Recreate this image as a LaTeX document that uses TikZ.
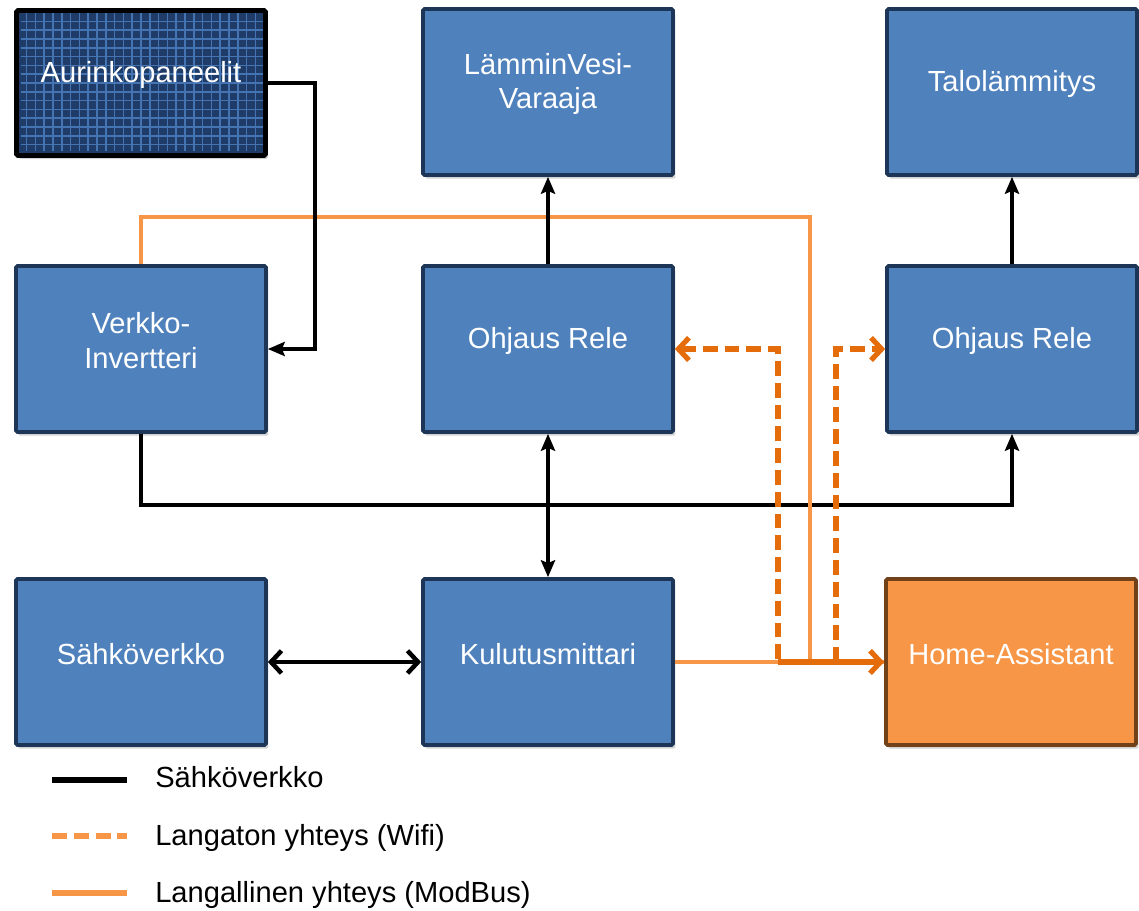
\documentclass[tikz,border=0pt]{standalone}
\usepackage{fontspec}
\setmainfont{Liberation Sans}
\usepackage{tikz}
\usetikzlibrary{arrows.meta}
\usetikzlibrary{shadows}

\definecolor{boxblue}{HTML}{4F81BD}
\definecolor{boxedge}{HTML}{1D3557}
\definecolor{panelblue}{HTML}{1F3B68}
\definecolor{panelgrid}{HTML}{4574B2}
\definecolor{haorange}{HTML}{F79646}
\definecolor{haedge}{HTML}{71411A}
\definecolor{wifiorange}{HTML}{E46C0A}

\tikzstyle{box} = [rectangle, rounded corners=1pt, minimum width=6.25cm, minimum height=4.15cm, draw=boxedge, line width=2.6pt, fill=boxblue, drop shadow={shadow xshift=0.06cm, shadow yshift=-0.09cm, opacity=0.35}]
\tikzstyle{panel} = [box, minimum width=6.22cm, minimum height=3.62cm, draw=black, line width=3.4pt, fill=panelblue, path picture={\draw[panelgrid, line width=1.2pt] ([shift={(0.1cm,0.1cm)}]path picture bounding box.south west) grid[step=0.22cm] (path picture bounding box.north east);}]
\tikzstyle{habox} = [box, draw=haedge, fill=haorange]
\tikzstyle{txt} = [text=white, align=center, font=\fontsize{20.7pt}{24.8pt}\selectfont]
\tikzstyle{legtxt} = [anchor=west, inner sep=0pt, text height=0.75em, text depth=0.2em, font=\fontsize{20.7pt}{24.8pt}\selectfont]
\tikzstyle{wire} = [line width=3.2pt, black]
\tikzstyle{modbus} = [line width=2.4pt, haorange]
\tikzstyle{wifi} = [line width=3.7pt, wifiorange, dash pattern=on 10.5pt off 5pt]

\begin{document}
\begin{tikzpicture}[x=0.025cm, y=-0.025cm, >={Stealth[length=12pt, width=10pt, inset=2pt]}, chev/.tip={Straight Barb[length=7.5pt, width=16pt]}]

  \useasboundingbox (0,0) rectangle (1139,911);

  % Row 1
  \node[panel] (aurinko) at (141,83) {};
  \node[txt] (aurinkot) at ([yshift=0.2cm]aurinko.center) {Aurinkopaneelit};
  \node[box] (lvesi) at (548,92) {};
  \node[txt] (lvesit) at ([yshift=0.2cm]lvesi.center) {LämminVesi-\\Varaaja};
  \node[box] (talo) at (1012,92) {};
  \node[txt] (talot) at ([yshift=0.2cm]talo.center) {Talolämmitys};

  % Row 2
  \node[box] (inv) at (141,349) {};
  \node[txt] (invt) at ([yshift=0.2cm]inv.center) {Verkko-\\Invertteri};
  \node[box] (rele1) at (548,349) {};
  \node[txt] (rele1t) at ([yshift=0.2cm]rele1.center) {Ohjaus Rele};
  \node[box] (rele2) at (1012,349) {};
  \node[txt] (rele2t) at ([yshift=0.2cm]rele2.center) {Ohjaus Rele};

  % Row 3
  \node[box] (sahko) at (141,662) {};
  \node[txt] (sahkot) at ([yshift=0.2cm]sahko.center) {Sähköverkko};
  \node[box] (kulutus) at (548,662) {};
  \node[txt] (kulutust) at ([yshift=0.2cm]kulutus.center) {Kulutusmittari};
  \node[habox] (home) at (1011,662) {};
  \node[txt] (homet) at ([yshift=0.2cm]home.center) {Home-Assistant};

  % Sahkoverkko
  \draw[wire,->] (inv.south) -- (141,505) -| (rele2.south);
  \draw[wire,<->] (kulutus.north) -- (rele1.south);
  \draw[wire,chev-chev] (sahko.east) -- (kulutus.west);
  \draw[wire,->] (rele2.north) -- (talo.south);

  % ModBus
  \draw[modbus] (inv.north) -- (141,217) -| (810,662);
  \draw[modbus] (kulutus.east) -- (home.west);

  \draw[wire,->] (aurinko.east) -- (315,83) -- (315,349) -- (inv.east);
  \draw[wire,->] (rele1.north) -- (lvesi.south);

  % Wifi
  \coordinate (wifiA) at (778,662);
  \coordinate (wifiB) at (836,662);
  \draw[wifi,chev-] (rele1.east) -| (wifiA);
  \draw[wifi,-chev] (wifiB) |- (rele2.west);
  \draw[wifi,solid,-chev] (wifiA) -- (home.west);

  % Legend
  \draw[wire, line width=4.5pt] (52,780) -- (127,780);
  \draw[haorange, line width=3.8pt, dash pattern=on 11pt off 4.5pt] (52,836) -- (127,836);
  \draw[haorange, line width=3.8pt] (52,893) -- (127,893);
  \node[legtxt] (legsahko) at (155,784) {Sähköverkko};
  \node[legtxt] (legwifi) at (155,842) {Langaton yhteys (Wifi)};
  \node[legtxt] (legmodbus) at (155,899) {Langallinen yhteys (ModBus)};

\end{tikzpicture}
\end{document}
